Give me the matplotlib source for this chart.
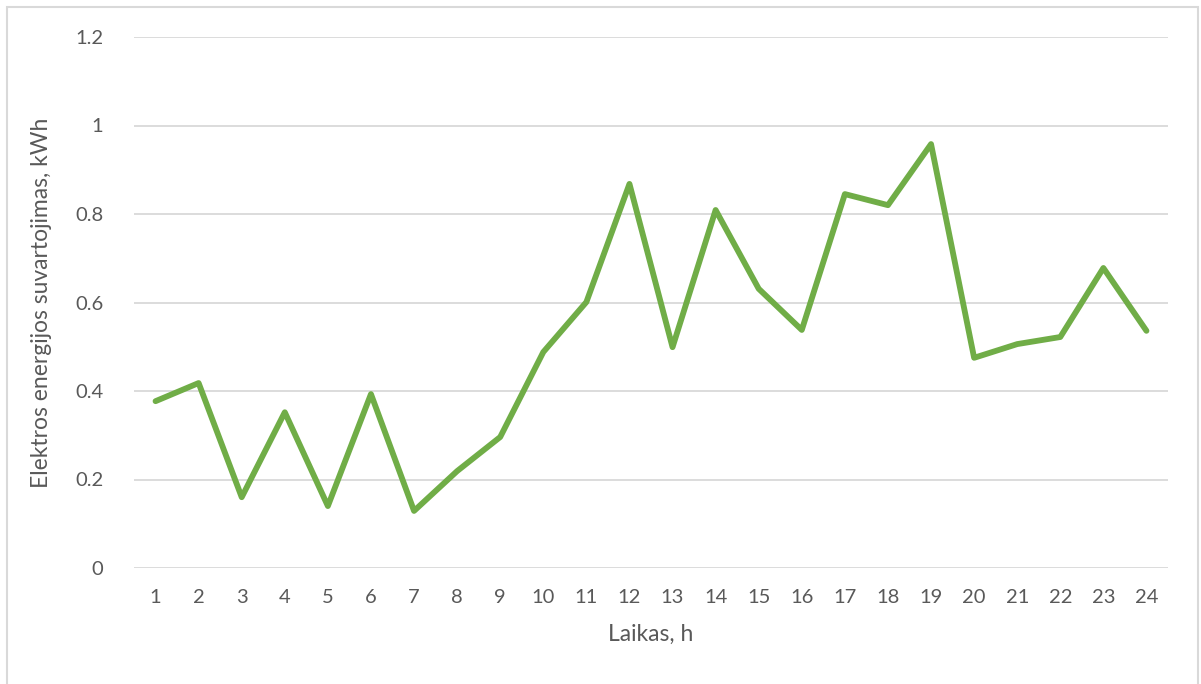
import matplotlib
matplotlib.use("Agg")
import matplotlib.pyplot as plt
from matplotlib.patches import Rectangle

plt.rcParams['font.family'] = ['Lato', 'DejaVu Sans']

hours = list(range(1, 25))
consumption = [0.377, 0.418, 0.160, 0.352, 0.140, 0.393, 0.129, 0.219, 0.296, 0.488,
               0.601, 0.868, 0.499, 0.809, 0.631, 0.538, 0.845, 0.820, 0.958, 0.475,
               0.506, 0.522, 0.678, 0.536]
y_ticks = [0, 0.2, 0.4, 0.6, 0.8, 1.0, 1.2]
y_tick_labels = ['0', '0.2', '0.4', '0.6', '0.8', '1', '1.2']

W, H = 1201, 684
fig = plt.figure(figsize=(W / 100, H / 100), dpi=100)

# chart-area border
fig.patches.append(Rectangle((7 / W, -0.01), (1198 - 7) / W, (H - 7) / H + 0.01,
                             transform=fig.transFigure, fill=False,
                             edgecolor='#d9d9d9', linewidth=1.5))

ax = fig.add_axes([134 / W, 1 - 568 / H, (1168 - 134) / W, (568 - 37) / H])
ax.plot(hours, consumption, color='#70ad47', linewidth=4.2,
        solid_joinstyle='round', solid_capstyle='round', zorder=3)

ax.set_xlim(0.5, 24.5)
ax.set_ylim(0, 1.2)
ax.set_yticks(y_ticks)
ax.set_yticklabels(y_tick_labels)
ax.set_xticks(hours)
ax.set_xticklabels([str(h) for h in hours])

ax.grid(axis='y', color='#d9d9d9', linewidth=1.3)
ax.set_axisbelow(True)
for s in ax.spines.values():
    s.set_visible(False)
ax.tick_params(axis='both', length=0, labelsize=14.5, colors='#595959')
ax.tick_params(axis='y', pad=22)
ax.tick_params(axis='x', pad=15)

ax.set_xlabel('Laikas, h', fontsize=16.5, color='#595959', labelpad=13)
ax.set_ylabel('Elektros energijos suvartojimas, kWh', fontsize=16.5,
              color='#595959', labelpad=17)

fig.savefig('out.png', dpi=100)
